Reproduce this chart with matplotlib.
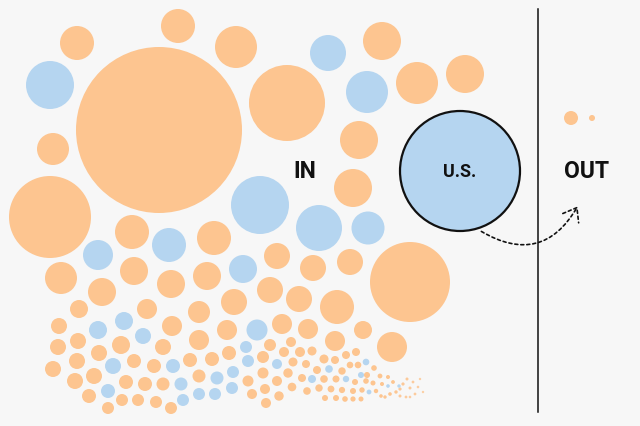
import matplotlib
matplotlib.use("Agg")
import matplotlib.pyplot as plt
from matplotlib.patches import Circle, FancyArrowPatch

# bubble positions / radii (pixel units, y down)
orange_x = [159, 178, 77, 236, 53, 50, 287, 382, 417, 465, 359, 353, 214, 132, 61, 134, 171, 207, 102,
            277, 313, 350, 410, 270, 299, 337, 234, 199, 147, 79, 282, 308, 363, 227, 172, 59, 392, 335,
            199, 58, 78, 121, 163, 99, 53, 77, 134, 154, 190, 212, 229, 270, 291, 263, 284, 300, 312,
            324, 335, 346, 356, 293, 306, 317, 342, 350, 358, 367, 374, 75, 94, 126, 145, 163, 199, 263,
            288, 248, 277, 302, 324, 336, 355, 366, 373, 380, 89, 122, 138, 156, 171, 108, 252, 265, 279,
            292, 307, 319, 331, 342, 353, 362, 376, 382, 266, 325, 336, 345, 353, 361,
            388, 393, 381, 385, 390, 396, 400, 403, 407, 410, 413, 415, 418, 420, 423, 400, 406, 410]
orange_y = [131, 27, 44, 48, 150, 218, 104, 42, 84, 75, 141, 189, 239, 233, 279, 272, 285, 277, 293,
            257, 269, 263, 283, 291, 300, 308, 303, 313, 310, 310, 325, 330, 331, 331, 327, 327, 348, 342,
            341, 348, 342, 346, 348, 354, 370, 362, 362, 367, 361, 360, 354, 346, 343, 358, 353, 353, 352,
            360, 361, 356, 353, 363, 365, 371, 372, 366, 366, 376, 369, 382, 377, 383, 385, 385, 377, 374,
            374, 382, 382, 379, 380, 380, 383, 382, 384, 377, 397, 401, 401, 403, 409, 409, 395, 390, 397,
            388, 392, 389, 390, 391, 392, 391, 392, 385, 404, 399, 399, 400, 400, 400,
            378, 383, 397, 398, 395, 393, 390, 385, 380, 389, 383, 395, 388, 380, 393, 397, 398, 398]
orange_r = [83, 17, 17, 21, 16, 41, 38, 19, 21, 19, 19, 19, 17, 17, 16, 14, 14, 14, 14,
            13, 13, 13, 40, 13, 13, 17, 13, 11, 10, 9, 10, 10, 9, 10, 10, 8, 15, 10,
            10, 8, 8, 9, 8, 8, 8, 8, 7, 7, 7, 7, 7, 6, 5, 6, 5, 5, 4.5,
            4.5, 4, 4, 4, 4.5, 4, 4, 3.7, 3.3, 3.3, 3, 2.8, 8, 8, 7, 7, 6.5, 6.5, 5.5,
            4.7, 5.5, 5, 4, 3.8, 3.5, 3, 2.8, 2.5, 2.4, 7, 6, 6, 6, 6, 6, 5, 5, 4.7,
            4.3, 3.8, 3.7, 3.4, 3.1, 3, 2.7, 2.2, 2, 5, 3, 3, 2.8, 2.6, 2.5,
            2, 1.9, 1.8, 1.7, 1.8, 1.7, 1.6, 1.6, 1.5, 1.5, 1.4, 1.4, 1.3, 1.2, 1.2, 1.5, 1.4, 1.3]

blue_x = [50, 328, 367, 260, 319, 368, 98, 169, 243, 257, 98, 124, 143, 113, 173, 181, 217, 108,
          183, 199, 215, 246, 248, 277, 233, 232, 366, 329, 312, 346, 361, 369, 388, 399]
blue_y = [86, 54, 93, 206, 229, 229, 256, 246, 270, 331, 331, 322, 337, 367, 367, 385, 379, 392,
          401, 395, 395, 348, 362, 365, 373, 389, 363, 370, 380, 380, 376, 393, 387, 387]
blue_r = [24, 18, 21, 29, 23, 16.5, 15, 17, 14, 10.5, 9, 9, 8, 8, 7, 6.5, 6.5, 7,
          6, 6, 6, 6, 6, 5, 6, 6, 3.3, 3.8, 4, 3.2, 3, 2.4, 1.8, 1.7]

out_x = [571, 592]
out_y = [119, 119]
out_r = [7, 3]

us_x, us_y, us_r = 460, 172, 60

ORANGE = "#fdc590"
BLUE = "#b5d5f0"
BG = "#f7f7f7"

fig = plt.figure(figsize=(6.4, 4.27), dpi=100, facecolor=BG)
ax = fig.add_axes([0, 0, 1, 1])
ax.set_facecolor(BG)
ax.set_xlim(0, 640)
ax.set_ylim(427, 0)
ax.axis("off")


def fade(r):
    # the tiny dots at the end of the tail look paler
    return min(1.0, 0.4 + r / 3.0)


for x, y, r in zip(orange_x + out_x, orange_y + out_y, orange_r + out_r):
    ax.add_patch(Circle((x, y), r, color=ORANGE, lw=0, alpha=fade(r)))
for x, y, r in zip(blue_x, blue_y, blue_r):
    ax.add_patch(Circle((x, y), r, color=BLUE, lw=0, alpha=fade(r)))

ax.add_patch(Circle((us_x, us_y), us_r, facecolor=BLUE, edgecolor="#111111", lw=1.6, zorder=3))

ax.plot([538, 538], [10, 413], color="#111111", lw=1.1)

font = dict(family=["Roboto", "DejaVu Sans"], weight="bold", color="#111111",
            ha="center", va="center")
ax.text(305, 172, "IN", fontsize=16.5, **font)
ax.text(587, 172, "OUT", fontsize=16.5, **font)
ax.text(us_x, us_y, "U.S.", fontsize=13, zorder=4, **font)

arrow = FancyArrowPatch((479, 231), (579, 205), connectionstyle="arc3,rad=0.52",
                        arrowstyle="->,head_length=4,head_width=3", color="#111111",
                        lw=1.2, linestyle=(0, (1.8, 1.8)), mutation_scale=2.2, zorder=5)
ax.add_patch(arrow)

fig.savefig("out.png", dpi=100, facecolor=BG)
